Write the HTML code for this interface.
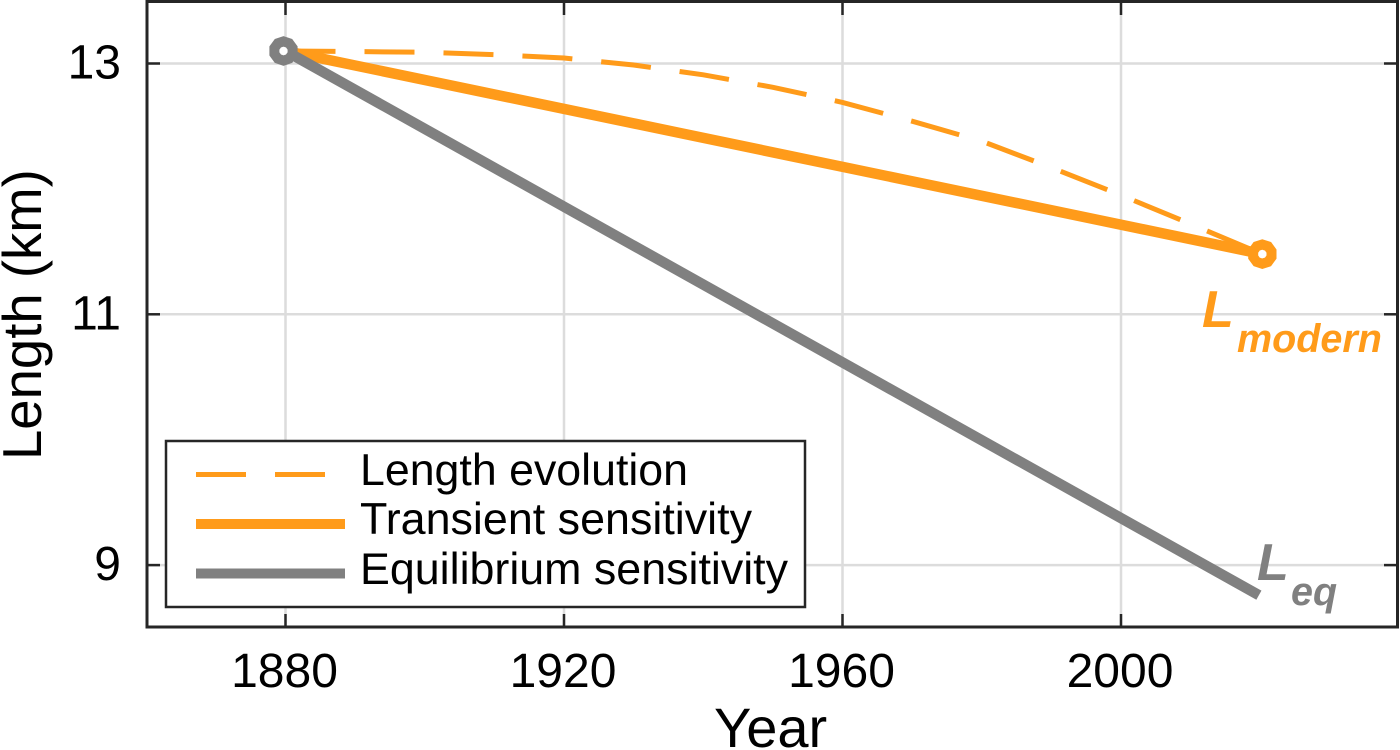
<!DOCTYPE html>
<html lang="en">
<head>
<meta charset="utf-8">
<title>Length sensitivity chart</title>
<style>
html,body{margin:0;padding:0;background:#fff;}
svg{display:block;font-family:"Liberation Sans",Arial,sans-serif;}
</style>
</head>
<body>
<svg id="chart" xmlns="http://www.w3.org/2000/svg" width="1400" height="750" viewBox="0 0 1400 750">
  <rect x="0" y="0" width="1400" height="750" fill="#ffffff"/>
  <g id="grid"></g>
  <g id="series"></g>
  <rect x="147" y="1.5" width="1250.5" height="625.5" fill="none" stroke="#262626" stroke-width="3"/>
  <g id="ticks"></g>
  <g id="tick-labels"></g>
  <text x="714" y="747" font-size="56" fill="#000">Year</text>
  <text transform="translate(41 460) rotate(-90)" font-size="54.5" fill="#000">Length (km)</text>
  <g fill="#ff9b1a" font-weight="bold" font-style="italic">
    <text x="1202" y="327" font-size="52">L</text>
    <text x="1237" y="352" font-size="39.5">modern</text>
  </g>
  <g fill="#808080" font-weight="bold" font-style="italic">
    <text x="1257" y="580" font-size="52">L</text>
    <text x="1291" y="605" font-size="39.5">eq</text>
  </g>
  <g>
    <rect x="166" y="441" width="639" height="166" fill="#ffffff" stroke="#262626" stroke-width="2.5"/>
    <line x1="196" y1="474.5" x2="345" y2="474.5" stroke="#ff9b1a" stroke-width="5" stroke-dasharray="50 29"/>
    <line x1="196" y1="524" x2="345" y2="524" stroke="#ff9b1a" stroke-width="10"/>
    <line x1="196" y1="573.5" x2="345" y2="573.5" stroke="#808080" stroke-width="10"/>
    <text x="360" y="485" font-size="44.5" fill="#000" textLength="328" lengthAdjust="spacingAndGlyphs">Length evolution</text>
    <text x="360" y="534" font-size="44.5" fill="#000" textLength="392" lengthAdjust="spacingAndGlyphs">Transient sensitivity</text>
    <text x="360" y="584" font-size="44.5" fill="#000" textLength="428" lengthAdjust="spacingAndGlyphs">Equilibrium sensitivity</text>
  </g>
</svg>
<script>
var xTicks = [1880, 1920, 1960, 2000];
var yTicks = [9, 11, 13];
var evolutionYears = [1880, 1890, 1900, 1910, 1920, 1930, 1940, 1950, 1960, 1970, 1980, 1990, 2000, 2010, 2020.3];
var evolutionLength = [13.10, 13.095, 13.09, 13.07, 13.044, 12.988, 12.91, 12.81, 12.69, 12.54, 12.38, 12.17, 11.95, 11.72, 11.48];
var transientYears = [1880, 2020.3];
var transientLength = [13.10, 11.48];
var equilibriumYears = [1880, 2019.8];
var equilibriumLength = [13.10, 8.76];
var startMarkerYear = [1880];
var startMarkerLength = [13.10];
var endMarkerYear = [2020.3];
var endMarkerLength = [11.48];

var NS = 'http://www.w3.org/2000/svg';
function xScale(year) { return 285.5 + (year - 1880) * 6.9625; }
function yScale(km) { return 63.5 + (13 - km) * 125.4; }
function make(parent, tag, attrs) {
  var el = document.createElementNS(NS, tag);
  for (var k in attrs) { el.setAttribute(k, attrs[k]); }
  parent.appendChild(el);
  return el;
}
function pointsOf(xs, ys) {
  return xs.map(function (x, i) { return xScale(x).toFixed(1) + ',' + yScale(ys[i]).toFixed(1); }).join(' ');
}
var grid = document.getElementById('grid');
var ticks = document.getElementById('ticks');
var labels = document.getElementById('tick-labels');
var series = document.getElementById('series');

xTicks.forEach(function (t) {
  var px = xScale(t);
  var g = make(grid, 'line', {x1: px, x2: px, y1: 2, y2: 627, stroke: '#dcdcdc', 'stroke-width': 2.5});
  
  
  var a = make(ticks, 'line', {x1: px, x2: px, y1: 627, y2: 614, stroke: '#262626', 'stroke-width': 2.5});
  
  
  var b = make(ticks, 'line', {x1: px, x2: px, y1: 2, y2: 15, stroke: '#262626', 'stroke-width': 2.5});
  
  
  var l = make(labels, 'text', {x: px - 1, y: 687, 'text-anchor': 'middle', 'font-size': 48, fill: '#000'});
  l.textContent = t;
  
  
});
yTicks.forEach(function (t) {
  var py = yScale(t);
  var g = make(grid, 'line', {x1: 147, x2: 1397, y1: py, y2: py, stroke: '#dcdcdc', 'stroke-width': 2.5});
  
  
  var a = make(ticks, 'line', {x1: 147, x2: 160, y1: py, y2: py, stroke: '#262626', 'stroke-width': 2.5});
  
  
  var b = make(ticks, 'line', {x1: 1384, x2: 1397, y1: py, y2: py, stroke: '#262626', 'stroke-width': 2.5});
  
  
  var l = make(labels, 'text', {x: 121, y: py + 15, 'text-anchor': 'end', 'font-size': 48, fill: '#000'});
  l.textContent = t;
  
  
});

var evo = make(series, 'polyline', {points: pointsOf(evolutionYears, evolutionLength), fill: 'none', stroke: '#ff9b1a', 'stroke-width': 5, 'stroke-dasharray': '50 29'});


var tra = make(series, 'polyline', {points: pointsOf(transientYears, transientLength), fill: 'none', stroke: '#ff9b1a', 'stroke-width': 10.5});


var equ = make(series, 'polyline', {points: pointsOf(equilibriumYears, equilibriumLength), fill: 'none', stroke: '#808080', 'stroke-width': 10.5});



function ring(cx, cy, color) {
  var pts = [];
  for (var i = 0; i < 10; i++) {
    var a = Math.PI * 2 * (i + 0.5) / 10;
    pts.push((cx + 9.6 * Math.cos(a)).toFixed(1) + ',' + (cy + 9.6 * Math.sin(a)).toFixed(1));
  }
  return make(series, 'polygon', {points: pts.join(' '), fill: '#ffffff', stroke: color, 'stroke-width': 10, 'stroke-linejoin': 'miter'});
}
var endRing = ring(xScale(endMarkerYear[0]), yScale(endMarkerLength[0]), '#ff9b1a');


var startRing = ring(xScale(startMarkerYear[0]) - 2, yScale(startMarkerLength[0]), '#808080');


</script>
</body>
</html>
